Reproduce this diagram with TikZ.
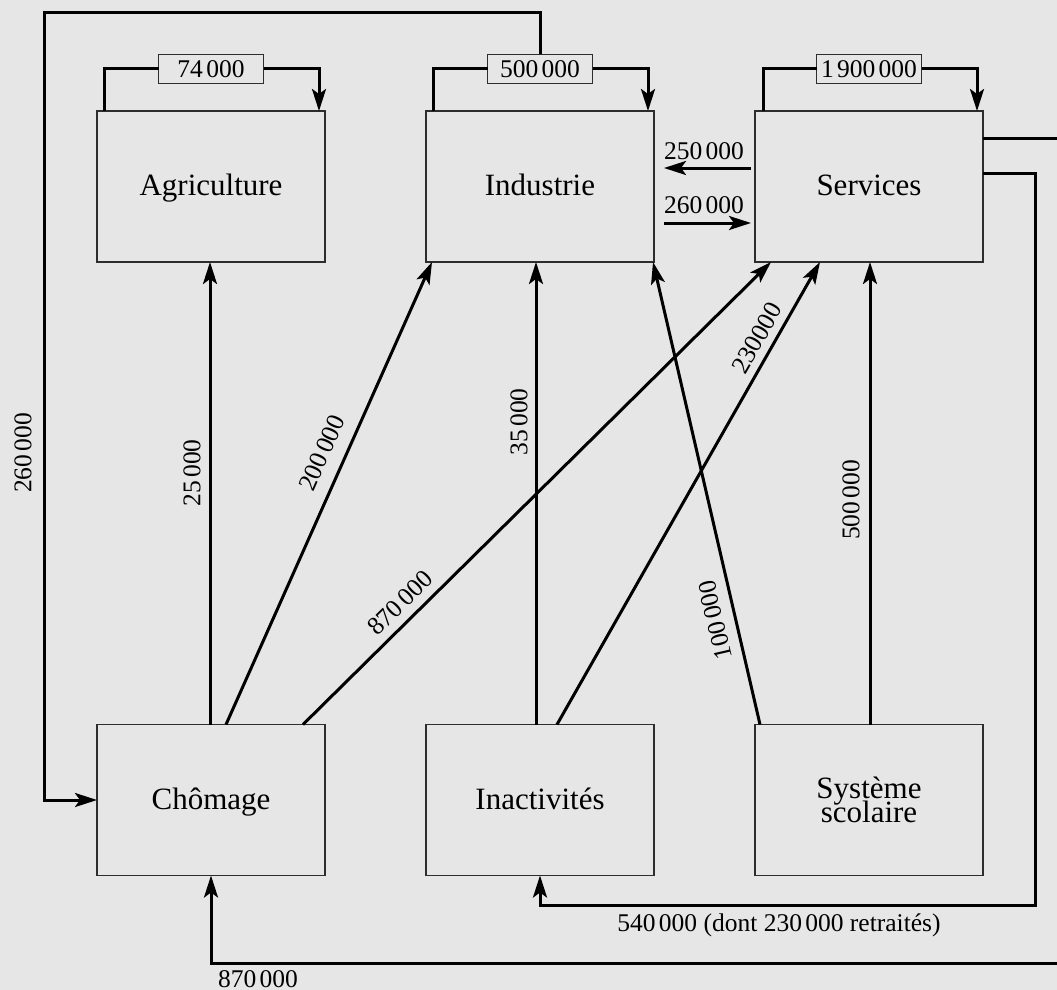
\documentclass[tikz,border=0pt]{standalone}
\usepackage{fontspec}
\setmainfont{Liberation Serif}
\usetikzlibrary{arrows.meta}
\definecolor{bg}{RGB}{230,230,230}
\definecolor{edge}{RGB}{45,45,45}
\newcommand{\ts}{\kern0.13em}
\begin{document}
\begin{tikzpicture}[x=1pt,y=-1pt,
  box/.style={draw=edge,line width=1.4pt,fill=bg,minimum width=228pt,minimum height=151pt,inner sep=0pt,outer sep=0pt,font=\fontsize{31}{24}\selectfont,align=center},
  one/.style={text height=21pt,text depth=3pt},
  lbox/.style={draw=edge,line width=1.2pt,fill=bg,minimum width=105pt,minimum height=29pt,inner sep=0pt,outer sep=0pt,font=\fontsize{25.5}{28}\selectfont},
  num/.style={font=\fontsize{25.5}{28}\selectfont,inner sep=0pt},
  flow/.style={line width=3pt,-{Stealth[length=22pt,width=14pt,inset=5pt]}},
  plain/.style={line width=3pt}]
\useasboundingbox (0,0) rectangle (1057,990);
\fill[bg] (0,0) rectangle (1057,990);
\clip (0,0) rectangle (1057,990);

% boxes
\node[box,one] (A) at (211,186.5) {Agriculture};
\node[box,one] (I) at (540,186.5) {Industrie};
\node[box,one] (S) at (869,186.5) {Services};
\node[box,one] (C) at (211,800) {Chômage};
\node[box,one] (N) at (540,800) {Inactivités};
\node[box] (Y) at (869,800) {Système\\[-4.5pt]scolaire};

% self loops
\node[lbox] (lA) at (211,69) {74\ts000};
\node[lbox] (lI) at (540,69) {500\ts000};
\node[lbox] (lS) at (869,69) {1\ts900\ts000};
\draw[plain] ([xshift=7pt]A.north west) |- (lA.west);
\draw[flow] (lA.east) -| ([xshift=-6pt]A.north east);
\draw[plain] ([xshift=7pt]I.north west) |- (lI.west);
\draw[flow] (lI.east) -| ([xshift=-6pt]I.north east);
\draw[plain] ([xshift=8pt]S.north west) |- (lS.west);
\draw[flow] (lS.east) -| ([xshift=-6pt]S.north east);

% Industrie -> Chomage (260 000)
\draw[flow] (lI.north) |- (44,13) |- (C.west);
\node[num,rotate=90] (t260a) at (23,453) {260\ts000};

% Services -> Chomage / Inactivites
\draw[flow] (S.east |- 0,138) -- (1075,138) -- (1075,963) -| (C.south);
\node[num] (t870b) at (258,979) {870\ts000};
\draw[flow] (S.east |- 0,173) -| (1035,905) -| (N.south);
\node[num] (t540) at (779,925) {540\ts000 (dont 230\ts000 retraités)};

% Industrie <-> Services
\draw[flow,shorten <=4pt,shorten >=10pt] (S.west |- 0,168) -- (I.east |- 0,168);
\node[num] (t250) at (704,151) {250\ts000};
\draw[flow,shorten <=10pt,shorten >=4pt] (I.east |- 0,223) -- (S.west |- 0,223);
\node[num] (t260b) at (704,205) {260\ts000};

% upward flows
\draw[flow] (C.north -| 210,0) -- (A.south -| 210,0);
\draw[flow] (C.north -| 226,0) -- (I.south -| 432,0);
\draw[flow] (C.north -| 303,0) -- (S.south -| 771,0);
\draw[flow] (N.north -| 536,0) -- (I.south -| 536,0);
\draw[flow] (N.north -| 557,0) -- (S.south -| 820,0);
\draw[flow] (Y.north -| 760,0) -- (I.south -| 653,0);
\draw[flow] (Y.north -| 870,0) -- (S.south -| 870,0);

\node[num,rotate=90] (t25) at (192,473) {25\ts000};
\node[num,rotate=66] (t200) at (322,453) {200\ts000};
\node[num,rotate=90] (t35) at (519,422) {35\ts000};
\node[num,rotate=44.6] (t870a) at (400,603) {870\ts000};
\node[num,rotate=60.3] (t230) at (757,338) {230000};
\node[num,rotate=103] (t100) at (715,620) {100\ts000};
\node[num,rotate=90] (t500) at (851,500) {500\ts000};
\end{tikzpicture}
\end{document}
